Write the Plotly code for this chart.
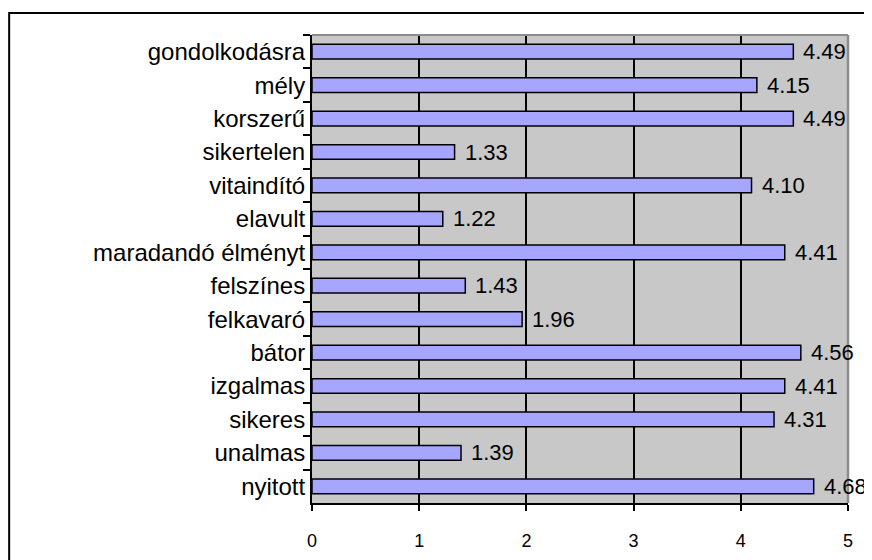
import plotly.graph_objects as go

# Hungarian adjective ratings (top to bottom as shown)
categories = [
    "gondolkodásra", "mély", "korszerű", "sikertelen", "vitaindító",
    "elavult", "maradandó élményt", "felszínes", "felkavaró", "bátor",
    "izgalmas", "sikeres", "unalmas", "nyitott",
]
scores = [4.49, 4.15, 4.49, 1.33, 4.10, 1.22, 4.41, 1.43, 1.96, 4.56,
          4.41, 4.31, 1.39, 4.68]
x_ticks = [0, 1, 2, 3, 4, 5]

FONT = "Arial, Liberation Sans, sans-serif"

fig = go.Figure()
fig.add_trace(go.Bar(
    x=scores,
    y=categories,
    orientation="h",
    marker=dict(color="#A6A6FF", line=dict(color="black", width=1.5)),
    hoverinfo="x+y",
))

# value labels to the right of each bar
for cat, val in zip(categories, scores):
    fig.add_annotation(
        x=val, y=cat, text=f"{val:.2f}", showarrow=False,
        xanchor="left", yanchor="middle", xshift=8,
        font=dict(family=FONT, size=22, color="black"),
    )

# page body adds 8px offset, so margins are set 8px smaller on left/top
fig.update_layout(
    width=872,
    height=560,
    margin=dict(l=304, r=32, t=27, b=65),
    paper_bgcolor="white",
    plot_bgcolor="#C8C8C8",
    bargap=0.56,
    showlegend=False,
    font=dict(family=FONT, color="black"),
)

fig.update_xaxes(
    range=[0, 5],
    tickvals=x_ticks,
    ticks="outside",
    ticklen=6,
    tickwidth=2,
    tickcolor="black",
    ticklabelstandoff=14,
    tickfont=dict(family=FONT, size=18),
    showgrid=True,
    gridcolor="black",
    gridwidth=1.5,
    showline=True,
    linecolor="black",
    linewidth=2,
    zeroline=False,
)

fig.update_yaxes(
    type="category",
    autorange="reversed",
    tickson="boundaries",
    ticks="outside",
    ticklen=7,
    tickwidth=2,
    tickcolor="black",
    tickfont=dict(family=FONT, size=24),
    showgrid=False,
    showline=True,
    linecolor="black",
    linewidth=2,
    zeroline=False,
)

# gray top/right border of the plot area
fig.add_shape(type="line", xref="x domain", yref="y domain", layer="above",
              x0=0, x1=1, y0=1, y1=1, line=dict(color="#8C8C8C", width=2))
fig.add_shape(type="line", xref="x domain", yref="y domain", layer="above",
              x0=1, x1=1, y0=0, y1=1, line=dict(color="#8C8C8C", width=2.5))

# outer chart frame (runs off the right and bottom edges)
fig.add_shape(type="rect", xref="paper", yref="paper",
              x0=-0.565, x1=1.1, y0=-0.2, y1=1.047,
              line=dict(color="black", width=2), layer="above")

fig.write_html("out.html")
